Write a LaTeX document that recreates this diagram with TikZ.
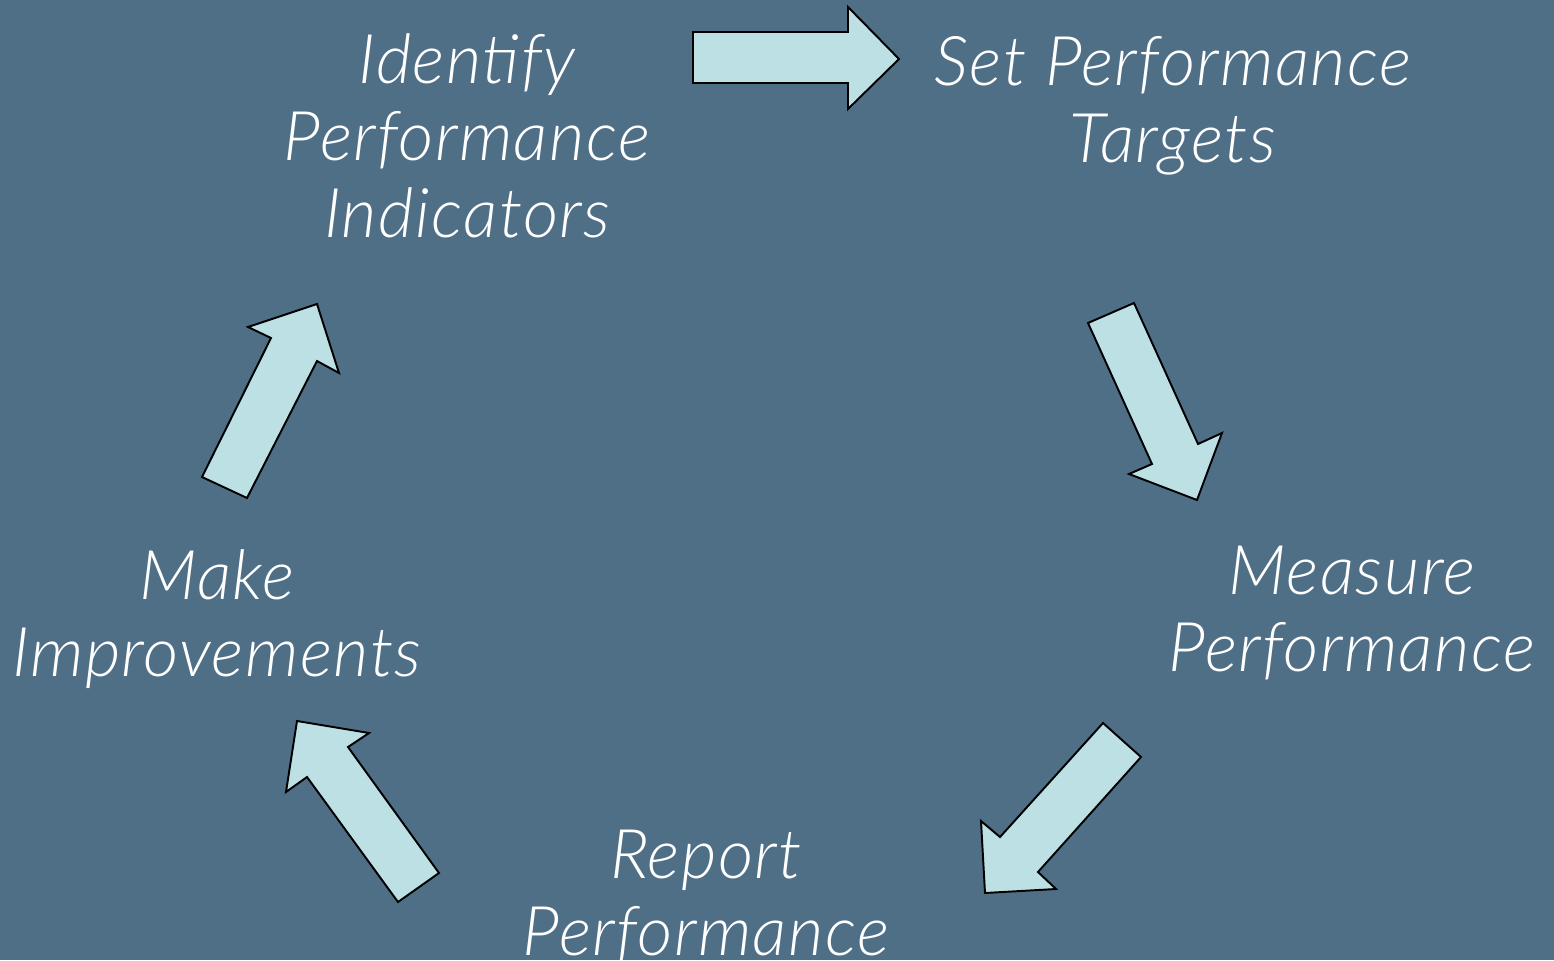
\documentclass[tikz,border=0pt]{standalone}
\usepackage{fontspec}
\newfontfamily\lbl{Lato}[UprightFont=* Light, ItalicFont=* Light Italic, LetterSpace=2]
\definecolor{slate}{HTML}{4F6F87}
\definecolor{paleaqua}{HTML}{BCE0E3}
\begin{document}
\begin{tikzpicture}[x=0.02cm,y=-0.02cm,
  blockarrow/.style={fill=paleaqua,draw=black,line width=1.1pt,line join=miter},
  steplabel/.style={text=white,align=center,inner sep=0pt,
    font=\lbl\itshape\fontsize{39}{43.8}\selectfont}]
  % backdrop
  \fill[slate] (0,0) rectangle (1554,960);
  \useasboundingbox (0,0) rectangle (1554,960);

  % stage labels
  \node[steplabel] (identify) at (467,136) {Identify\\Performance\\Indicators};
  \node[steplabel] (targets) at (1173,106) {Set Performance\\Targets};
  \node[steplabel] (measure) at (1352,613) {Measure\\Performance};
  \node[steplabel] (report) at (706,897) {Report\\Performance};
  \node[steplabel] (improve) at (217,619) {Make\\Improvements};

  % block arrows between stages
  \draw[blockarrow] (693,32) -- (848,32) -- (848,7) -- (899,59) -- (848,109)
    -- (848,83) -- (693,83) -- cycle;
  \draw[blockarrow] (1088,323) -- (1134,303) -- (1198,444) -- (1222,433)
    -- (1197,500) -- (1129,474) -- (1152,464) -- cycle;
  \draw[blockarrow] (1103,723) -- (1141,757) -- (1038,872) -- (1056,889)
    -- (985,893) -- (981,821) -- (1000,837) -- cycle;
  \draw[blockarrow] (439,873) -- (398,902) -- (307,777) -- (286,792)
    -- (297,721) -- (369,733) -- (348,747) -- cycle;
  \draw[blockarrow] (247,498) -- (202,477) -- (271,338) -- (248,327)
    -- (317,304) -- (339,373) -- (317,361) -- cycle;
\end{tikzpicture}
\end{document}
